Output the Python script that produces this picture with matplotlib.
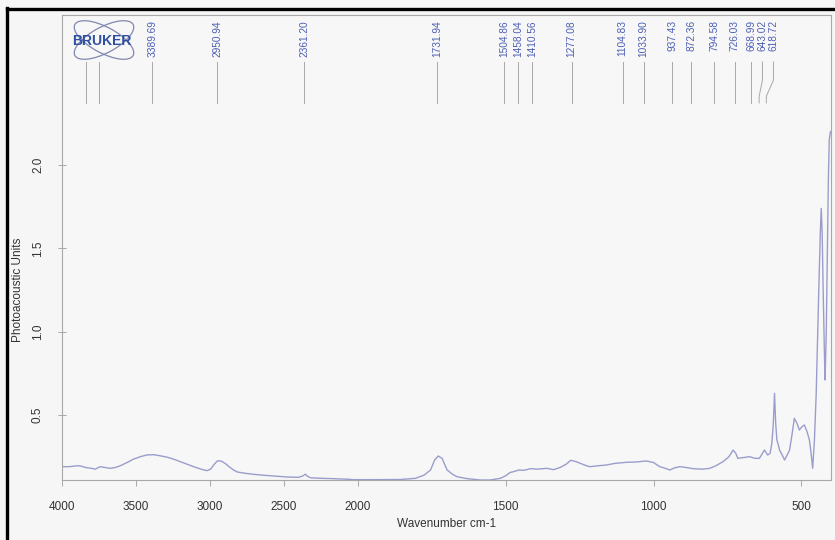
import matplotlib
matplotlib.use('Agg')
import matplotlib.pyplot as plt
import numpy as np
from matplotlib.patches import Ellipse
from matplotlib.lines import Line2D
from matplotlib.transforms import IdentityTransform

plt.rcParams['font.family'] = ['Liberation Sans', 'DejaVu Sans']

# spectre (nombre d'onde, unités photoacoustiques)
wavenumber = [4000, 3950, 3900, 3878, 3840, 3800, 3776, 3742, 3710, 3675, 3640, 3607,
              3560, 3517, 3470, 3427, 3380, 3335, 3290, 3245, 3200, 3155, 3110, 3060,
              3019, 2995, 2970, 2950, 2930, 2916, 2890, 2871, 2840, 2815, 2760, 2702,
              2630, 2566, 2476, 2400, 2370, 2355, 2340, 2317, 2240, 2160, 2080, 2024,
              1950, 1855, 1805, 1775, 1754, 1740, 1728, 1715, 1698, 1680, 1665, 1630,
              1585, 1552, 1518, 1500, 1485, 1473, 1455, 1439, 1415, 1394, 1361, 1338,
              1316, 1295, 1280, 1265, 1248, 1226, 1215, 1190, 1159, 1130, 1092, 1060,
              1024, 1000, 979, 960, 945, 930, 911, 890, 866, 834, 810, 790, 765, 745,
              731, 722, 715, 695, 675, 658, 642, 625, 614, 606, 600, 595, 591, 587,
              583, 578, 574, 565, 557, 548, 540, 532, 524, 515, 507, 498, 490, 481,
              473, 466, 462, 456, 450, 442, 436, 433, 430, 426, 422, 420, 416, 412,
              409, 406, 402]
signal = [0.19, 0.19, 0.195, 0.195, 0.185, 0.18, 0.175, 0.19, 0.185, 0.18, 0.185, 0.195,
          0.215, 0.235, 0.25, 0.26, 0.262, 0.255, 0.247, 0.235, 0.22, 0.205, 0.19, 0.175,
          0.166, 0.175, 0.205, 0.224, 0.225, 0.22, 0.205, 0.19, 0.17, 0.158, 0.15, 0.144,
          0.138, 0.134, 0.128, 0.126, 0.135, 0.145, 0.132, 0.123, 0.12, 0.118, 0.115, 0.112,
          0.112, 0.113, 0.12, 0.14, 0.17, 0.23, 0.254, 0.24, 0.17, 0.145, 0.13, 0.118,
          0.11, 0.11, 0.12, 0.135, 0.155, 0.16, 0.17, 0.168, 0.178, 0.175, 0.18, 0.172,
          0.185, 0.205, 0.228, 0.222, 0.21, 0.195, 0.19, 0.195, 0.2, 0.21, 0.216, 0.218,
          0.224, 0.215, 0.19, 0.18, 0.17, 0.182, 0.19, 0.185, 0.178, 0.175, 0.18, 0.195, 0.22, 0.25,
          0.29, 0.27, 0.24, 0.245, 0.25, 0.24, 0.24, 0.29, 0.26, 0.27, 0.33, 0.45, 0.63, 0.45,
          0.35, 0.32, 0.29, 0.26, 0.23, 0.26, 0.29, 0.38, 0.48, 0.45, 0.41, 0.43, 0.44, 0.40,
          0.35, 0.25, 0.18, 0.35, 0.63, 1.2, 1.6, 1.74, 1.6, 1.2, 0.85, 0.71, 1.0, 1.5,
          1.9, 2.15, 2.2]

peaks = [3389.69, 2950.94, 2361.20, 1731.94, 1504.86, 1458.04, 1410.56, 1277.08,
         1104.83, 1033.90, 937.43, 872.36, 794.58, 726.03, 668.99, 643.02, 618.72]
hidden_peaks = [3840, 3750]  # étiquettes cachées sous le logo

xticks = [4000, 3500, 3000, 2500, 2000, 1500, 1000, 500]
yticks = [0.5, 1.0, 1.5, 2.0]


def fwd(x):  # échelle compressée au-dessus de 2000 cm-1
    x = np.asarray(x, dtype=float)
    return np.where(x > 2000, 2000 + (x - 2000) * 0.5, x)


def inv(y):
    y = np.asarray(y, dtype=float)
    return np.where(y > 2000, 2000 + (y - 2000) * 2.0, y)


fig = plt.figure(figsize=(8.35, 5.4), dpi=100, facecolor='#f6f6f6')
ax = fig.add_subplot(111)
fig.subplots_adjust(left=62/835, right=831/835, top=1-15/540, bottom=1-480/540)
ax.set_facecolor('#f7f7f7')

ax.set_xscale('function', functions=(fwd, inv))
ax.plot(wavenumber, signal, '-', color='#9a9dcc', lw=1.0)
ax.set_xlim(4000, 400)
ax.set_ylim(0.11, 2.9)
ax.set_xticks(xticks)
ax.set_xticklabels([str(t) for t in xticks])
ax.set_yticks(yticks)
ax.set_yticklabels(['%.1f' % t for t in yticks], rotation=90, va='center')
ax.minorticks_off()

for s in ax.spines.values():
    s.set_color('#a8a8a8'); s.set_linewidth(0.8)
ax.tick_params(axis='x', direction='out', length=4, width=0.7, color='#a8a8a8',
               labelsize=8.5, labelcolor='#333333', pad=11)
ax.tick_params(axis='y', direction='inout', length=6, width=0.7, color='#a8a8a8',
               labelsize=8.5, labelcolor='#333333', pad=10)
ax.set_xlabel('Wavenumber cm-1', fontsize=8.5, color='#333333', labelpad=4)
ax.set_ylabel('Photoacoustic Units', fontsize=8.5, color='#333333')
ax.yaxis.set_label_coords(-0.049, 0.41)

# étiquettes des pics, écartées si trop serrées
trans = ax.get_xaxis_transform()
px = ax.transData.transform(np.column_stack([peaks, np.ones(len(peaks))]))[:, 0]
lab_px = []
for p in px:
    if lab_px and p < lab_px[-1] + 11:
        p = lab_px[-1] + 11
    lab_px.append(p)
lab_x = ax.transData.inverted().transform(np.column_stack([lab_px, np.zeros(len(lab_px))]))[:, 0]

for pk, lx in zip(peaks, lab_x):
    ax.text(lx, 0.989, '%.2f' % pk, transform=trans, rotation=90, ha='center', va='top',
            fontsize=7.3, color='#4d5fb4', clip_on=False)
    ax.plot([lx, lx, pk, pk], [0.899, 0.86, 0.825, 0.811], transform=trans,
            color='#a8a8a8', lw=0.7, clip_on=False)
for pk in hidden_peaks:
    ax.plot([pk, pk], [0.899, 0.811], transform=trans, color='#a8a8a8', lw=0.7, clip_on=False)

# logo
for ang in (28, -28):
    fig.add_artist(Ellipse((104, 540-40), 66, 26, angle=ang, transform=IdentityTransform(),
                           fill=False, ec='#8088b0', lw=0.9))
fig.text(102/835, 1-41/540, 'BRUKER', ha='center', va='center', fontsize=10,
         fontweight='bold', color='#2f4fa0')

# bords noirs du scan
fig.add_artist(Line2D([7/835, 7/835], [0, 1-8/540], transform=fig.transFigure,
                      color='black', lw=2.4))
fig.add_artist(Line2D([7/835, 1], [1-8.5/540, 1-8.5/540], transform=fig.transFigure,
                      color='black', lw=2.4))

fig.savefig('out.png', dpi=100, facecolor=fig.get_facecolor())
